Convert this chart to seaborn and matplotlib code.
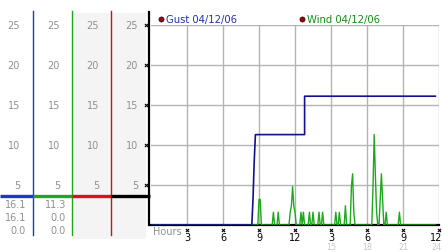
import matplotlib
matplotlib.use("Agg")
import matplotlib.pyplot as plt
import matplotlib.transforms as mtransforms
import seaborn as sns
import pandas as pd

# ---------------- data ----------------
gust_hours = [0.0, 8.4, 8.5, 8.6, 8.7, 12.8, 12.8, 23.7]
gust_values = [0.0, 0.0, 3.2, 7.9, 11.3, 11.3, 16.1, 16.1]

wind_hours = [0.0, 8.9, 9.0, 9.1, 9.2, 10.1, 10.2, 10.3, 10.5, 10.6, 10.7,
              11.5, 11.6, 11.7, 11.8, 11.9, 12.0, 12.1,
              12.4, 12.5, 12.6, 12.7, 12.8,
              13.1, 13.2, 13.3, 13.4, 13.5, 13.6,
              13.9, 14.0, 14.1, 14.2, 14.3, 14.4,
              15.3, 15.4, 15.5, 15.6, 15.7, 15.8,
              16.1, 16.2, 16.3,
              16.6, 16.7, 16.8, 16.9, 17.0,
              18.4, 18.5, 18.6, 18.7, 18.8, 18.9, 19.0, 19.1, 19.2, 19.3,
              19.4, 19.5, 19.6, 19.7,
              20.6, 20.7, 20.8, 23.7]
wind_values = [0, 0, 3.2, 3.2, 0, 0, 1.6, 0, 0, 1.6, 0,
               0, 1.6, 2.4, 4.8, 2.4, 1.6, 0,
               0, 1.6, 0, 1.6, 0,
               0, 1.6, 0, 0, 1.6, 0,
               0, 1.6, 0, 0, 1.6, 0,
               0, 1.6, 0, 0, 1.6, 0,
               0, 2.4, 0,
               0, 4.8, 6.4, 1.6, 0,
               0, 4.8, 11.3, 6.1, 1.6, 0, 0, 3.2, 6.4, 3.2,
               0, 0, 1.6, 0,
               0, 1.6, 0, 0]

y_ticks = [5, 10, 15, 20, 25]
x_ticks = [3, 6, 9, 12, 15, 18, 21, 24]
x_labels_top = ["3", "6", "9", "12", "3", "6", "9", "12"]
x_labels_bottom = ["", "", "", "", "15", "18", "21", "24"]

series_names = ["Gust 04/12/06", "Wind 04/12/06"]
gust_readings = ["16.1", "16.1", "0.0"]
wind_readings = ["11.3", "0.0", "0.0"]

GUST_C = "#12128c"
WIND_C = "#1ea81e"
RED_C = "#c01818"
LBL_BLUE = "#2030b0"
LBL_GREEN = "#109010"
GRID_C = "#b4b4b4"
TXT_GRAY = "#909090"

W, H = 442, 253
fig = plt.figure(figsize=(W / 100, H / 100), dpi=100)
fig.patch.set_facecolor("white")

# overlay in pixel coordinates (for the left panel decoration)
ov = fig.add_axes([0, 0, 1, 1], zorder=0)
ov.set_xlim(0, W)
ov.set_ylim(H, 0)
ov.axis("off")

# main chart
ax = fig.add_axes([151 / W, 1 - 226 / H, 288 / W, 200 / H], zorder=2)
ax.set_facecolor("none")
ax.set_xlim(0, 24)
ax.set_ylim(0, 25)

sns.lineplot(data=pd.DataFrame({"h": wind_hours, "v": wind_values}), x="h", y="v",
             ax=ax, color=WIND_C, linewidth=1.0, estimator=None, sort=False, zorder=3)
sns.lineplot(data=pd.DataFrame({"h": gust_hours, "v": gust_values}), x="h", y="v",
             ax=ax, color=GUST_C, linewidth=1.2, estimator=None, sort=False, zorder=4)

ax.set_xticks(x_ticks)
ax.set_yticks(y_ticks)
ax.grid(True, color=GRID_C, linewidth=1.0)
ax.set_axisbelow(True)
ax.tick_params(length=0, labelbottom=False, labelleft=False)
for s in ["top", "right", "left"]:
    ax.spines[s].set_visible(False)
ax.spines["bottom"].set_color("black")
ax.spines["bottom"].set_linewidth(1.6)
ax.spines["bottom"].set_zorder(2)
ax.set_xlabel("")
ax.set_ylabel("")

# y tick markers at left edge, x tick markers under axis
ytr = mtransforms.blended_transform_factory(ov.transData, ax.transData)
xtr = mtransforms.blended_transform_factory(ax.transData, ov.transData)
ov.scatter([146] * len(y_ticks), y_ticks, marker="x", s=5, color="black",
           linewidths=0.8, transform=ytr, zorder=5)
ov.scatter(x_ticks, [230.5] * len(x_ticks), marker="x", s=5, color="black",
           linewidths=0.8, transform=xtr, zorder=5)
for i, (t, a, b) in enumerate(zip(x_ticks, x_labels_top, x_labels_bottom)):
    last = i == len(x_ticks) - 1
    ha = "right" if last else "center"
    tr = xtr + mtransforms.ScaledTranslation(3 / 100, 0, fig.dpi_scale_trans) if last else xtr
    ov.text(t, 238, a, transform=tr, ha=ha, va="center", fontsize=7, color="black")
    if b:
        ov.text(t, 247.5, b, transform=tr, ha=ha, va="center", fontsize=5.8, color="#c8c8c8")
ov.text(153, 232, "Hours", ha="left", va="center", fontsize=7, color=TXT_GRAY)

# left panel columns
ov.add_patch(plt.Rectangle((73, 14), 73, 226, color="#f4f4f4", lw=0, zorder=0))
col_lines = [(33, "#1040c0"), (72, WIND_C), (111, RED_C)]
for x, c in col_lines:
    ov.plot([x, x], [12, 236], color=c, lw=1.0, zorder=2)
ov.plot([149, 149], [13, 226], color="black", lw=1.6, zorder=3)
seg = [(0, 33, "#1040c0"), (33, 72, WIND_C), (72, 111, "#e01010"), (111, 150, "black")]
for x0, x1, c in seg:
    ov.plot([x0, x1], [197, 197], color=c, lw=2.4, solid_capstyle="butt", zorder=3)

col_right = [20, 60, 99, 138]
for xr in col_right:
    for v in y_ticks:
        ov.text(xr, v, str(v), transform=ytr, ha="right", va="center",
                fontsize=7, color=TXT_GRAY)
for i, (g, w) in enumerate(zip(gust_readings, wind_readings)):
    yy = 205 + 13 * i
    ov.text(26, yy, g, ha="right", va="center", fontsize=7, color=TXT_GRAY)
    ov.text(66, yy, w, ha="right", va="center", fontsize=7, color=TXT_GRAY)

# legend
for (xd, name, c) in [(161, series_names[0], LBL_BLUE), (302, series_names[1], LBL_GREEN)]:
    ov.scatter([xd], [20], s=14, color="#a00000", edgecolors="black", linewidths=0.4, zorder=5)
    ov.text(xd + 5, 20, name, ha="left", va="center", fontsize=7.2, color=c)

fig.savefig("out.png", dpi=100)
